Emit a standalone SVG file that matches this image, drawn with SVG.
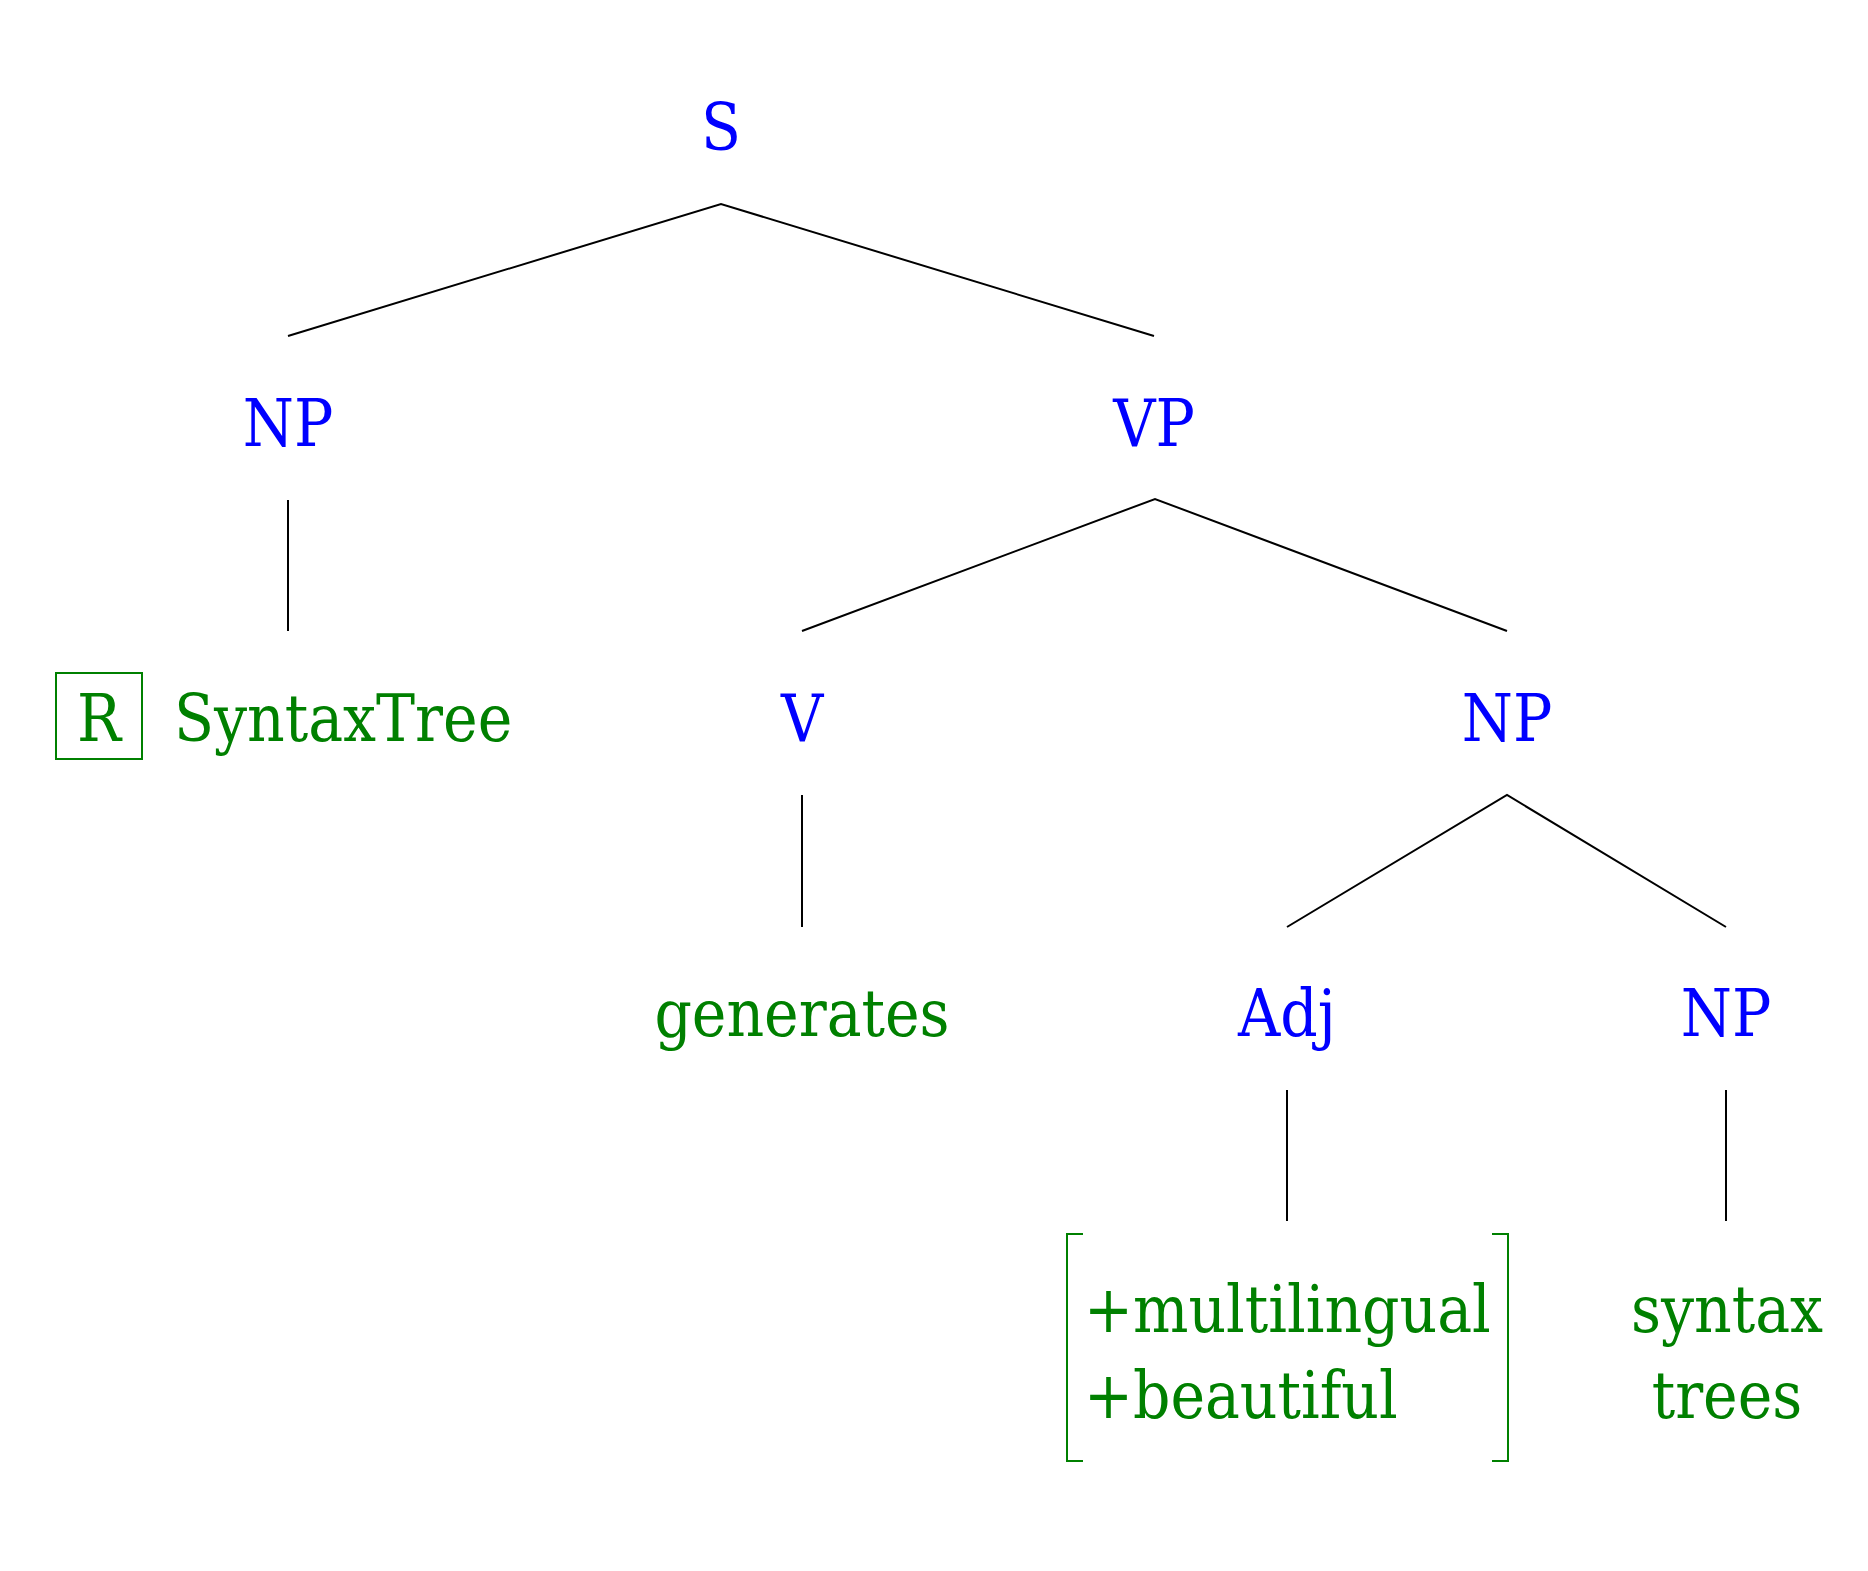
<svg xmlns="http://www.w3.org/2000/svg" width="1868" height="1571" viewBox="0 0 1868 1571">
<style>
text{font-family:"DejaVu Serif Condensed","DejaVu Serif",serif;font-stretch:condensed;font-size:65px;text-anchor:middle}
.cat{fill:#0000ff}
.lex{fill:#008000}
.edge{stroke:#000;stroke-width:2;fill:none}
.box{stroke:#008000;stroke-width:2;fill:none}
</style>
<rect width="1868" height="1571" fill="#fff"/>
<g id="connectors">
<path class="edge" d="M288,336 L721,204 L1154,336"/>
<path class="edge" d="M288,500 L288,631"/>
<path class="edge" d="M802,631 L1155,499 L1507,631"/>
<path class="edge" d="M802,795 L802,927"/>
<path class="edge" d="M1287,927 L1507,795 L1726,927"/>
<path class="edge" d="M1287,1090 L1287,1221"/>
<path class="edge" d="M1726,1090 L1726,1221"/>
</g>
<g id="S"><text class="cat" x="721" y="150">S</text></g>
<g id="NP1"><text class="cat" x="288" y="446">NP</text></g>
<g id="VP"><text class="cat" x="1154" y="446">VP</text></g>
<g id="SyntaxTree">
<rect class="box" x="56" y="673" width="86" height="86"/>
<text class="lex" x="99" y="741">R</text>
<text class="lex" x="174" y="741" style="text-anchor:start">SyntaxTree</text>
</g>
<g id="V"><text class="cat" x="802" y="741">V</text></g>
<g id="NP2"><text class="cat" x="1507" y="741">NP</text></g>
<g id="generates"><text class="lex" x="802" y="1036">generates</text></g>
<g id="Adj"><text class="cat" x="1287" y="1036">Adj</text></g>
<g id="NP3"><text class="cat" x="1726" y="1036">NP</text></g>
<g id="features">
<path class="box" d="M1083,1234 L1067,1234 L1067,1461 L1083,1461"/>
<path class="box" d="M1492,1234 L1508,1234 L1508,1461 L1492,1461"/>
<text class="lex" x="1084" y="1332" style="text-anchor:start">+multilingual</text>
<text class="lex" x="1084" y="1418" style="text-anchor:start">+beautiful</text>
</g>
<g id="syntaxtrees">
<text class="lex" x="1727" y="1332">syntax</text>
<text class="lex" x="1727" y="1418">trees</text>
</g>
</svg>
